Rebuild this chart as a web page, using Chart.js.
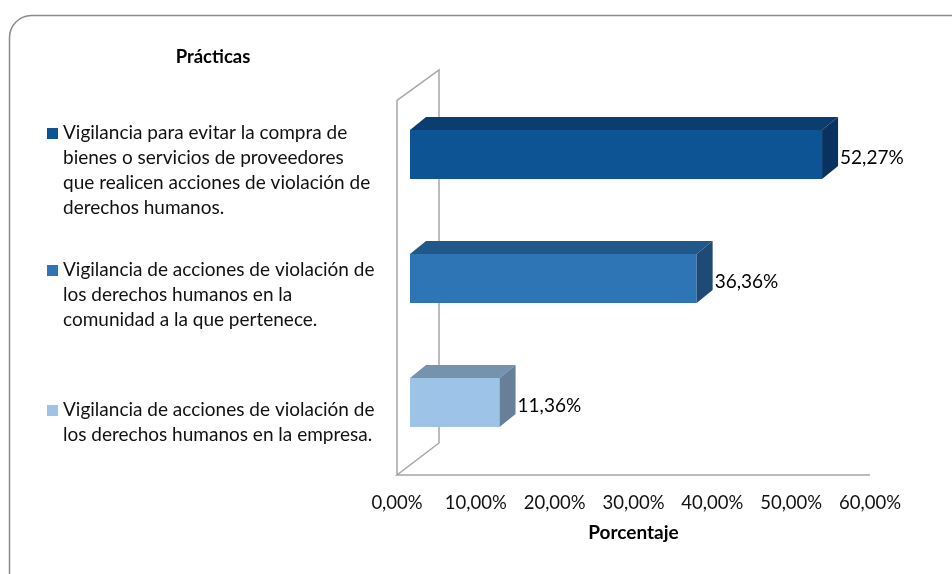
<!DOCTYPE html>
<html>
<head>
<meta charset="utf-8">
<script src="https://cdn.jsdelivr.net/npm/chart.js@4"></script>
<style>
    html, body { margin: 0; padding: 0; background: #fff; }
    #wrap { width: 952px; height: 574px; position: relative; }
</style>
</head>
<body>
<div id="wrap"><canvas id="chart" width="952" height="574"></canvas></div>
<script>
// Chart data
const legendTitle = 'Prácticas';
const axisTitle = 'Porcentaje';
const categories = [
    ['Vigilancia para evitar la compra de', 'bienes o servicios de proveedores', 'que realicen acciones de violación de', 'derechos humanos.'],
    ['Vigilancia de acciones de violación de', 'los derechos humanos en la', 'comunidad a la que pertenece.'],
    ['Vigilancia de acciones de violación de', 'los derechos humanos en la empresa.']
];
const values = [52.27, 36.36, 11.36];
const tickValues = [0, 10, 20, 30, 40, 50, 60];

// bar colours: front, top and side faces
const frontColors = ['#0D5495', '#2E75B6', '#9DC3E6'];
const topColors = ['#0B3E6F', '#22578A', '#7693AE'];
const sideColors = ['#093260', '#1E4A75', '#677F98'];

const FONT = 'Lato, "Liberation Sans", sans-serif';
const fmt = v => v.toFixed(2).replace('.', ',') + '%';

// 3D depth of the bars, and shift of the front plane (axis labels, floor)
const barDepth = { dx: 16, dy: -13 };
const frontShift = -13;

// Background, rounded frame, side legend and axis title
const framePlugin = {
    id: 'frame',
    beforeDraw(chart) {
        const ctx = chart.ctx;
        ctx.save();
        ctx.fillStyle = '#fff';
        ctx.fillRect(0, 0, chart.width, chart.height);
        ctx.strokeStyle = '#8a8a8a';
        ctx.lineWidth = 1.5;
        ctx.beginPath();
        ctx.roundRect(9.5, 15.5, 965, 580, 22);
        ctx.stroke();
        ctx.restore();
    },
    afterDraw(chart) {
        const { ctx, chartArea } = chart;
        ctx.save();
        ctx.fillStyle = '#000';
        ctx.textAlign = 'center';
        ctx.textBaseline = 'middle';
        ctx.font = 'bold 18.5px ' + FONT;
        ctx.fillText(legendTitle, 213, 57);

        // axis title, centred under the front plane
        ctx.font = 'bold 19px ' + FONT;
        ctx.fillText(axisTitle, (chartArea.left + chartArea.right) / 2 + frontShift, 533);

        const starts = [133, 270, 410];
        ctx.font = '19px ' + FONT;
        ctx.textAlign = 'left';
        categories.forEach((lines, i) => {
            ctx.fillStyle = frontColors[i];
            ctx.fillRect(47, starts[i] - 5, 11, 11);
            ctx.fillStyle = '#111';
            lines.forEach((line, j) => {
                ctx.fillText(line, 63, starts[i] + j * 25);
            });
        });
        ctx.restore();
    }
};

// Walls, floor and 3D faces of the bars
const threeDPlugin = {
    id: 'threeD',
    beforeDatasetsDraw(chart) {
        const { ctx, chartArea } = chart;
        const fx = chartArea.left + frontShift, bx = chartArea.left + 29;
        const fTop = chartArea.top + 8, fBot = chartArea.bottom + 10.5;
        const bTop = chartArea.top - 22.5, bBot = chartArea.bottom - 21.5;
        ctx.save();
        ctx.strokeStyle = '#a6a6a6';
        ctx.lineWidth = 1.5;
        ctx.beginPath();
        ctx.moveTo(fx, fBot);
        ctx.lineTo(fx, fTop);
        ctx.lineTo(bx, bTop);
        ctx.lineTo(bx, bBot);
        ctx.lineTo(fx, fBot);
        ctx.lineTo(chartArea.right + frontShift, fBot);
        ctx.stroke();
        ctx.restore();
    },
    afterDatasetsDraw(chart) {
        const ctx = chart.ctx;
        const meta = chart.getDatasetMeta(0);
        ctx.save();
        meta.data.forEach((bar, i) => {
            const p = bar.getProps(['x', 'y', 'base', 'height'], true);
            const top = p.y - p.height / 2, bottom = p.y + p.height / 2;
            const dx = barDepth.dx, dy = barDepth.dy;
            // top face
            ctx.fillStyle = topColors[i];
            ctx.beginPath();
            ctx.moveTo(p.base, top);
            ctx.lineTo(p.x, top);
            ctx.lineTo(p.x + dx, top + dy);
            ctx.lineTo(p.base + dx, top + dy);
            ctx.closePath();
            ctx.fill();
            // side face
            ctx.fillStyle = sideColors[i];
            ctx.beginPath();
            ctx.moveTo(p.x, top);
            ctx.lineTo(p.x + dx, top + dy);
            ctx.lineTo(p.x + dx, bottom + dy);
            ctx.lineTo(p.x, bottom);
            ctx.closePath();
            ctx.fill();
            // value label
            ctx.fillStyle = '#000';
            ctx.font = '19px ' + FONT;
            ctx.textAlign = 'left';
            ctx.textBaseline = 'middle';
            ctx.fillText(fmt(values[i]), p.x + dx + 2, p.y + 3);
        });
        ctx.restore();
    }
};

new Chart(document.getElementById('chart'), {
    type: 'bar',
    data: {
        labels: categories.map(c => c.join(' ')),
        datasets: [{
            data: values,
            backgroundColor: frontColors,
            borderWidth: 0,
            barPercentage: 0.8,
            categoryPercentage: 0.494
        }]
    },
    options: {
        indexAxis: 'y',
        responsive: false,
        animation: false,
        layout: {
            padding: { left: 410, right: 69, top: 92.5, bottom: 22.5 }
        },
        plugins: {
            legend: { display: false },
            tooltip: { enabled: false }
        },
        scales: {
            x: {
                min: tickValues[0],
                max: tickValues[tickValues.length - 1],
                afterBuildTicks: axis => { axis.ticks = tickValues.map(v => ({ value: v })); },
                afterFit: axis => { axis.height = 87; },
                grid: { display: false, drawTicks: false },
                border: { display: false },
                ticks: {
                    padding: 27,
                    labelOffset: frontShift,
                    maxRotation: 0,
                    color: '#111',
                    font: { family: FONT, size: 18.5 },
                    callback: v => fmt(v)
                },
                title: { display: false }
            },
            y: { display: false }
        }
    },
    plugins: [framePlugin, threeDPlugin]
});
</script>
</body>
</html>
